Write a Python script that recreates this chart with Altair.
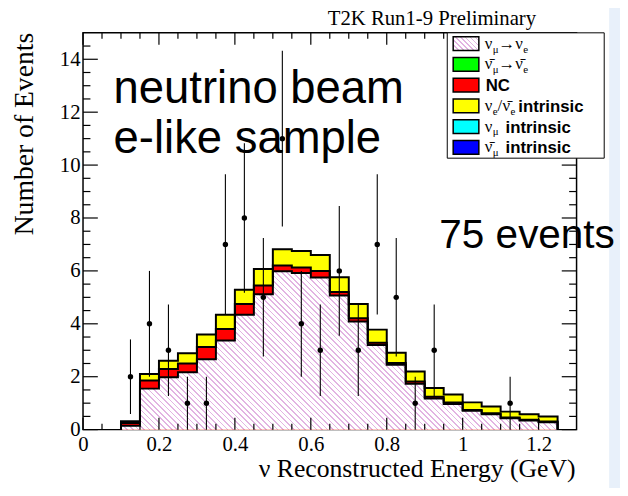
import math
import altair as alt
import pandas as pd

# ---------------- data ----------------
bin_lo = [0.10, 0.15, 0.20, 0.25, 0.30, 0.35, 0.40, 0.45, 0.50, 0.55, 0.60, 0.65,
          0.70, 0.75, 0.80, 0.85, 0.90, 0.95, 1.00, 1.05, 1.10, 1.15, 1.20]
bin_hi_last = 1.25
numu_nue = [0.15, 1.55, 1.98, 2.17, 2.66, 3.37, 4.34, 5.12, 5.99, 5.92, 5.75, 5.07,
            4.09, 3.20, 2.45, 1.73, 1.18, 0.97, 0.71, 0.58, 0.43, 0.34, 0.28]
nc = [0.10, 0.31, 0.31, 0.33, 0.46, 0.43, 0.41, 0.33, 0.21, 0.21, 0.25, 0.13,
      0.12, 0.08, 0.07, 0.09, 0.06, 0.06, 0.03, 0.04, 0.03, 0.03, 0.03]
nue_intrinsic = [0.07, 0.24, 0.31, 0.39, 0.48, 0.54, 0.54, 0.62, 0.62, 0.62, 0.60, 0.56,
                 0.54, 0.50, 0.39, 0.38, 0.33, 0.30, 0.29, 0.25, 0.22, 0.21, 0.19]

pt_x = [0.125, 0.175, 0.225, 0.275, 0.325, 0.375, 0.425, 0.475, 0.525, 0.575,
        0.625, 0.675, 0.725, 0.775, 0.825, 0.875, 0.925, 1.125]
pt_n = [2, 4, 3, 1, 1, 7, 8, 5, 11, 4, 3, 6, 3, 7, 5, 1, 3, 1]
pt_lo = [0.59, 2.0, 1.27, 0.0, 0.0, 4.35, 5.17, 2.76, 7.68, 2.0,
         1.27, 3.55, 1.27, 4.35, 2.76, 0.0, 1.27, 0.0]
pt_hi = [3.41, 6.0, 4.73, 2.0, 2.0, 9.65, 10.83, 7.24, 14.32, 6.0,
         4.73, 8.45, 4.73, 9.65, 7.24, 2.0, 4.73, 2.0]

x_major = [0, 0.2, 0.4, 0.6, 0.8, 1.0, 1.2]
x_minor = [round(0.05 * i, 2) for i in range(1, 26) if i % 4 != 0]
y_major = [0, 2, 4, 6, 8, 10, 12, 14]
y_minor = [0.5 * i for i in range(1, 30) if i % 4 != 0]

legend_colors = ["hatch", "#00ff00", "#ff0000", "#ffff00", "#00ffff", "#0000ff"]

# ---------------- layout ----------------
W, H = 500, 402
XMAX, YMAX = 1.3, 15
SERIF = "Liberation Serif"
SANS = "Liberation Sans"

xs = alt.Scale(domain=[0, XMAX], nice=False, zero=False)
ys = alt.Scale(domain=[0, YMAX], nice=False, zero=False)
xaxis = alt.Axis(values=x_major, format="~g", labelFont=SERIF, labelFontSize=21,
                 labelColor="black", ticks=False, tickSize=0, domain=False, grid=False,
                 labelPadding=4, title=None, labelFlush=False, labelOverlap=False)
yaxis = alt.Axis(values=y_major, format="~g", labelFont=SERIF, labelFontSize=21,
                 labelColor="black", ticks=False, tickSize=0, domain=False, grid=False,
                 labelPadding=3, title=None, labelFlush=False, labelOverlap=False)


def X(f):
    return alt.X(f, type="quantitative", scale=xs, axis=xaxis)


def Y(f):
    return alt.Y(f, type="quantitative", scale=ys, axis=yaxis)


def hatch(w, h, period=4.0, lw=1.2, line="#e2b4e2", bg="#ffffff"):
    r = h / w
    k = (1 + r) / (1 + r * r)
    L = (w + h) / math.sqrt(2)
    n = max(1, round(L / period))
    stops = []
    for i in range(n):
        a = i / n
        b = (i + lw / period) / n
        c = (i + 1) / n
        stops += [alt.GradientStop(color=line, offset=a), alt.GradientStop(color=line, offset=b),
                  alt.GradientStop(color=bg, offset=b), alt.GradientStop(color=bg, offset=c)]
    return alt.LinearGradient(gradient="linear", stops=stops, x1=0, y1=1, x2=k, y2=1 - k * r)


def step_line_df(vals, level):
    rows = [{"i": 0, "x": bin_lo[0], "y": 0.0, "level": level}]
    for j, (x0, v) in enumerate(zip(bin_lo, vals)):
        rows.append({"i": j + 1, "x": x0, "y": v, "level": level})
    rows.append({"i": len(vals) + 1, "x": bin_hi_last, "y": 0.0, "level": level})
    return pd.DataFrame(rows)


def step_area_df(vals):
    xs_ = list(bin_lo) + [bin_hi_last]
    ys_ = list(vals) + [0.0]
    return pd.DataFrame({"x": xs_, "y": ys_, "z": [0.0] * len(xs_)})


cum_pink = numu_nue
cum_red = [a + b for a, b in zip(numu_nue, nc)]
cum_tot = [a + b + c for a, b, c in zip(numu_nue, nc, nue_intrinsic)]

d_lines = pd.concat([step_line_df(cum_tot, "tot"), step_line_df(cum_red, "red"),
                     step_line_df(cum_pink, "pink")], ignore_index=True)

pink_w = (bin_hi_last - bin_lo[0]) * W / XMAX
pink_h = max(cum_pink) * H / YMAX


def area(vals, fill):
    return alt.Chart(step_area_df(vals)).mark_area(interpolate="step-after", fill=fill,
                                                   opacity=1).encode(
        x=X("x"), y=Y("y"), y2="z")


a_tot = area(cum_tot, "#ffff00")
a_red = area(cum_red, "#ff0000")
a_pink = area(cum_pink, hatch(pink_w, pink_h))

lines = alt.Chart(d_lines).mark_line(interpolate="step-after", color="black", strokeWidth=2,
                                     strokeJoin="miter").encode(
    x=X("x"), y=Y("y"), detail="level:N", order=alt.Order("i:Q"))

# inward ticks on all four sides
dyM = pd.DataFrame({"v": y_major})
dym = pd.DataFrame({"v": y_minor})
dxM = pd.DataFrame({"v": x_major})
dxm = pd.DataFrame({"v": x_minor})
tick_style = dict(color="black", strokeWidth=1.2)
ticks = [
    alt.Chart(dyM).mark_rule(**tick_style).encode(y=Y("v"), x=alt.value(0), x2=alt.value(15)),
    alt.Chart(dym).mark_rule(**tick_style).encode(y=Y("v"), x=alt.value(0), x2=alt.value(7.5)),
    alt.Chart(dyM).mark_rule(**tick_style).encode(y=Y("v"), x=alt.value(W), x2=alt.value(W - 15)),
    alt.Chart(dym).mark_rule(**tick_style).encode(y=Y("v"), x=alt.value(W), x2=alt.value(W - 7.5)),
    alt.Chart(dxM).mark_rule(**tick_style).encode(x=X("v"), y=alt.value(H), y2=alt.value(H - 12)),
    alt.Chart(dxm).mark_rule(**tick_style).encode(x=X("v"), y=alt.value(H), y2=alt.value(H - 6)),
    alt.Chart(dxM).mark_rule(**tick_style).encode(x=X("v"), y=alt.value(0), y2=alt.value(12)),
    alt.Chart(dxm).mark_rule(**tick_style).encode(x=X("v"), y=alt.value(0), y2=alt.value(6)),
]

d_pts = pd.DataFrame({"x": pt_x, "n": pt_n, "lo": pt_lo, "hi": pt_hi})
errs = alt.Chart(d_pts).mark_rule(color="black", strokeWidth=1.1).encode(
    x=X("x"), y=Y("lo"), y2="hi")
pts = alt.Chart(d_pts).mark_circle(color="black", opacity=1, size=30).encode(x=X("x"), y=Y("n"))

# ---------------- legend (drawn by hand, ROOT style) ----------------
one = pd.DataFrame({"a": [0]})
LX0, LX1, LY0, LY1 = 369, 528, 0, 127
row_y = [11, 32, 53, 74, 95, 116]
legend_box = alt.Chart(one).mark_rect(fill="white", stroke="black", strokeWidth=1).encode(
    x=alt.value(LX0), x2=alt.value(LX1), y=alt.value(LY0), y2=alt.value(LY1))
sw = pd.DataFrame({"y0": [y - 7 for y in row_y[1:]], "y1": [y + 7 for y in row_y[1:]],
                   "c": legend_colors[1:]})
swatches = alt.Chart(sw).mark_rect(stroke="black", strokeWidth=1.5).encode(
    x=alt.value(375), x2=alt.value(401), y=alt.Y("y0:Q", scale=None), y2="y1:Q",
    fill=alt.Fill("c:N", scale=None))
sw_pink = alt.Chart(one).mark_rect(fill=hatch(26, 14, period=3.5), stroke="black", strokeWidth=1.5).encode(
    x=alt.value(375), x2=alt.value(401), y=alt.value(row_y[0] - 7), y2=alt.value(row_y[0] + 7))

LT = 407
segs = [
    (0, 0, "ν", "m"), (0, 8, "μ", "s"), (0, 14, "→", "m"), (0, 31, "ν", "m"), (0, 39, "e", "s"),
    (1, 0, "ν̄", "m"), (1, 8, "μ", "s"), (1, 14, "→", "m"), (1, 31, "ν̄", "m"), (1, 39, "e", "s"),
    (2, 1, "NC", "b"),
    (3, 0, "ν", "m"), (3, 8, "e", "s"), (3, 13, "/", "m"), (3, 18, "ν̄", "m"), (3, 26, "e", "s"),
    (3, 34, "intrinsic", "b"),
    (4, 0, "ν", "m"), (4, 8, "μ", "s"), (4, 21, "intrinsic", "b"),
    (5, 0, "ν̄", "m"), (5, 8, "μ", "s"), (5, 21, "intrinsic", "b"),
]
segdf = pd.DataFrame([{"px": LT + dx, "py": row_y[r] + {"m": 5, "s": 9, "b": 6}[k], "t": t, "k": k}
                      for r, dx, t, k in segs])


def seg_layer(kind, font, size, weight):
    return alt.Chart(segdf[segdf.k == kind]).mark_text(
        font=font, fontSize=size, fontWeight=weight, align="left", baseline="alphabetic",
        color="black").encode(x=alt.X("px:Q", scale=None), y=alt.Y("py:Q", scale=None), text="t:N")


leg_text = [seg_layer("m", SERIF, 17, "normal"), seg_layer("s", SERIF, 11, "normal"),
            seg_layer("b", SANS, 17, "bold")]


def label(text, x, y, font, size, align="left", angle=0, baseline="alphabetic"):
    return alt.Chart(one).mark_text(text=text, font=font, fontSize=size, align=align,
                                    angle=angle, baseline=baseline, color="black").encode(
        x=alt.value(x), y=alt.value(y))


texts = [
    label("neutrino beam", 31, 71, SANS, 46),
    label("e-like sample", 31, 122, SANS, 46),
    label("75 events", 361, 218, SANS, 41),
    label("T2K Run1-9 Preliminary", 459, -8, SERIF, 21, align="right"),
    label("ν Reconstructed Energy (GeV)", 499, 450, SERIF, 26, align="right"),
    label("Number of Events", -51, 0, SERIF, 28, align="right", angle=270),
]

strip = alt.Chart(one).mark_rect(fill="#e8f0fa").encode(
    x=alt.value(533), x2=alt.value(560), y=alt.value(-40), y2=alt.value(470))

chart = alt.layer(
    strip, a_tot, a_red, a_pink, lines, *ticks, errs, pts,
    legend_box, sw_pink, swatches, *leg_text, *texts
).properties(
    width=W, height=H,
    autosize=alt.AutoSizeParams(type="none"),
    padding={"left": 76, "top": 22, "right": 44, "bottom": 56},
    background="white",
).configure_view(stroke="black", strokeWidth=1.5)

chart.save("out.html", embed_options={"renderer": "svg", "actions": False})
